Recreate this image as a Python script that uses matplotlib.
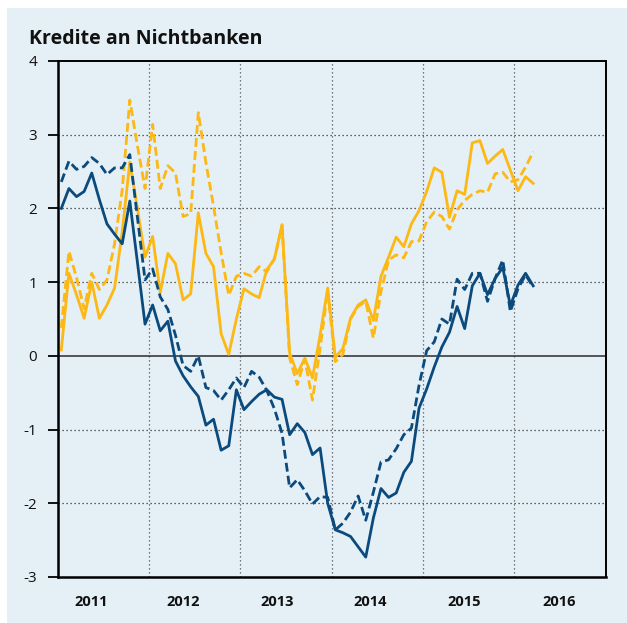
import numpy as np
import matplotlib
matplotlib.use("Agg")
import matplotlib.pyplot as plt
from matplotlib.patches import Rectangle

# ---------------- data (monthly, Jan 2011 .. Mar 2016) ----------------
start_year = 2011
blue_solid = [2.0, 2.27, 2.16, 2.23, 2.48, 2.12, 1.79, 1.65, 1.52, 2.1, 1.27, 0.43,
              0.69, 0.34, 0.47, -0.07, -0.27, -0.42, -0.55, -0.94, -0.86, -1.28, -1.22, -0.46,
              -0.73, -0.62, -0.52, -0.46, -0.56, -0.59, -1.07, -0.92, -1.04, -1.34, -1.25, -2.0,
              -2.36, -2.40, -2.45, -2.59, -2.73, -2.2, -1.8, -1.92, -1.86, -1.58, -1.43, -0.71,
              -0.45, -0.15, 0.12, 0.32, 0.67, 0.37, 0.95, 1.12, 0.83, 1.05, 1.2, 0.68,
              0.96, 1.12, 0.95]
blue_dashed = [2.36, 2.64, 2.53, 2.57, 2.69, 2.61, 2.46, 2.55, 2.55, 2.73, 1.88, 1.03,
               1.18, 0.8, 0.63, 0.28, -0.13, -0.21, 0.0, -0.43, -0.47, -0.6, -0.46, -0.3,
               -0.43, -0.21, -0.29, -0.47, -0.72, -1.05, -1.79, -1.68, -1.83, -2.01, -1.91, -1.92,
               -2.36, -2.27, -2.12, -1.9, -2.23, -1.85, -1.44, -1.41, -1.26, -1.07, -0.98, -0.4,
               0.07, 0.19, 0.5, 0.43, 1.04, 0.9, 1.12, 1.12, 0.74, 1.05, 1.3, 0.6,
               0.91, 1.1, 0.93]
yellow_solid = [0.08, 1.12, 0.83, 0.51, 1.0, 0.51, 0.69, 0.92, 1.68, 2.63, 2.0, 1.34,
                1.62, 0.86, 1.39, 1.25, 0.76, 0.84, 1.94, 1.39, 1.21, 0.3, 0.02, 0.5,
                0.91, 0.84, 0.79, 1.17, 1.31, 1.78, 0.04, -0.24, -0.03, -0.3, 0.28, 0.92,
                -0.02, 0.1, 0.51, 0.69, 0.76, 0.48, 1.08, 1.34, 1.61, 1.48, 1.79, 1.97,
                2.23, 2.55, 2.49, 1.88, 2.24, 2.19, 2.89, 2.92, 2.61, 2.71, 2.8, 2.52,
                2.24, 2.43, 2.34]
yellow_dashed = [0.38, 1.42, 1.06, 0.64, 1.12, 0.9, 1.03, 1.52, 2.25, 3.47, 2.85, 2.27,
                 3.14, 2.27, 2.58, 2.48, 1.89, 1.93, 3.3, 2.62, 2.03, 1.4, 0.82, 1.08,
                 1.12, 1.08, 1.21, 1.14, 1.32, 1.77, -0.03, -0.39, -0.05, -0.6, 0.1, 0.88,
                 -0.08, 0.02, 0.5, 0.67, 0.74, 0.24, 0.87, 1.3, 1.37, 1.33, 1.55, 1.56,
                 1.82, 1.95, 1.89, 1.72, 1.98, 2.11, 2.19, 2.24, 2.22, 2.47, 2.49, 2.36,
                 2.39, 2.56, 2.77]
year_labels = ["2011", "2012", "2013", "2014", "2015", "2016"]
y_ticks = [4, 3, 2, 1, 0, -1, -2, -3]
title = "Kredite an Nichtbanken"

# ---------------- style ----------------
W, H = 627, 623
BG = "#e4eff6"
BLUE = "#0b4a7c"
YELLOW = "#fdb813"
FONT = ["Open Sans", "DejaVu Sans"]

fig = plt.figure(figsize=(W / 100, H / 100), dpi=100)
fig.patch.set_facecolor("white")
bg = Rectangle((7 / W, 0), 1 - 7 / W, 1 - 8 / H, transform=fig.transFigure,
               facecolor=BG, edgecolor="none", zorder=-10)
fig.add_artist(bg)

left, right, top, bottom = 57.5, 605.5, 61, 577
ax = fig.add_axes([left / W, 1 - bottom / H, (right - left) / W, (bottom - top) / H])
ax.set_facecolor(BG)

n = len(blue_solid)
x = start_year + (np.arange(n) + 0.5) / 12.0

lw = 2.0
ax.plot(x, yellow_solid, color=YELLOW, lw=lw, zorder=3)
ax.plot(x, yellow_dashed, color=YELLOW, lw=lw, ls=(0, (3.2, 1.5)), zorder=3)
ax.plot(x, blue_solid, color=BLUE, lw=lw, zorder=4)
ax.plot(x, blue_dashed, color=BLUE, lw=lw, ls=(0, (3.2, 1.5)), zorder=4)

ax.set_xlim(2011, 2017)
ax.set_ylim(-3, 4)

# grid
for yy in [1, 2, 3, -1, -2]:
    ax.axhline(yy, color="#333333", lw=0.9, ls=(0, (1, 2.2)), zorder=1)
for yr in range(2012, 2017):
    ax.axvline(yr, color="#555555", lw=0.9, ls=(0, (1, 2.2)), zorder=1)
ax.axhline(0, color="#3a3a3a", lw=1.2, zorder=2)

for s in ax.spines.values():
    s.set_color("black")
    s.set_linewidth(1.4)
ax.spines["left"].set_linewidth(1.8)
ax.spines["bottom"].set_linewidth(1.8)

ax.set_yticks(y_ticks)
ax.set_yticklabels([str(v) for v in y_ticks], fontsize=11, family=FONT, color="#111111")
ax.tick_params(axis="y", direction="out", length=7.5, width=1.3, pad=7)

label_pos = [2011.37, 2012.38, 2013.40, 2014.42, 2015.45, 2016.49]
ax.set_xticks(label_pos)
ax.set_xticklabels(year_labels, fontsize=10.5, family=FONT, fontweight="bold", color="#111111")
ax.tick_params(axis="x", length=0, pad=13)

fig.text(29 / W, 1 - 43.5 / H, title, fontsize=14.1, fontweight="bold", family=FONT,
         color="#111111", ha="left", va="baseline")

fig.savefig("out.png", dpi=100, facecolor=fig.get_facecolor())
